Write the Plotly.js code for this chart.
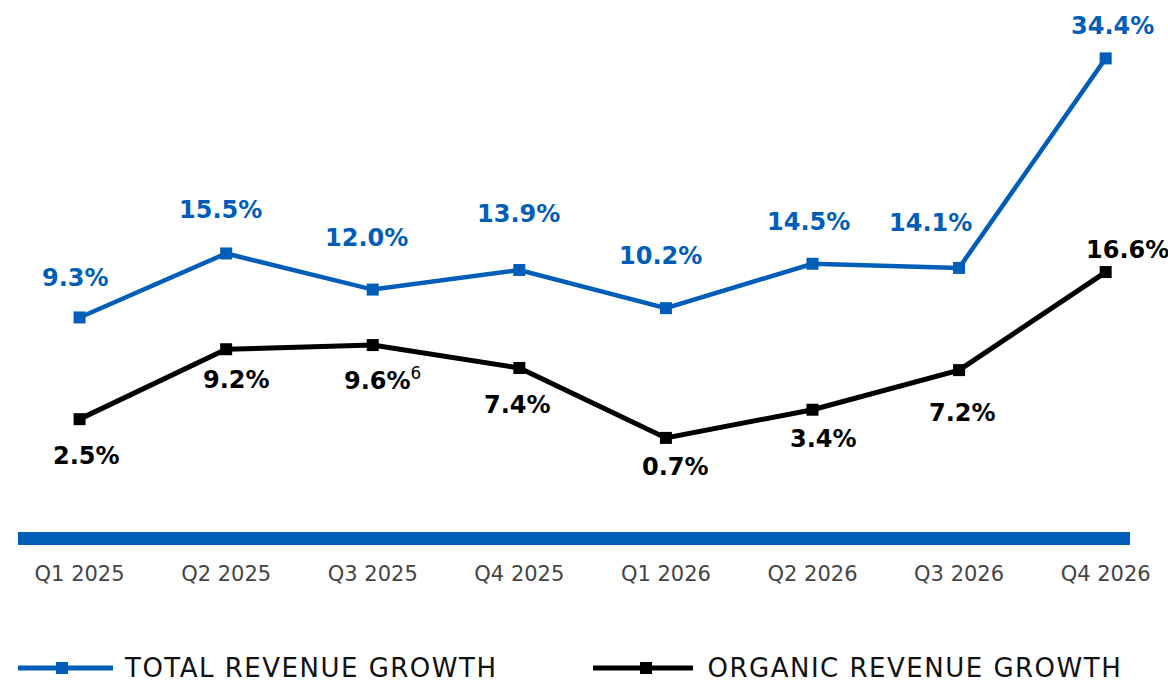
<!DOCTYPE html>
<html>
<head>
<meta charset="utf-8">
<script src="https://cdn.plot.ly/plotly-3.0.1.min.js"></script>
<style>
  html, body { margin: 0; padding: 0; background: #ffffff; }
  #chart { width: 1168px; height: 685px; }
</style>
</head>
<body>
<div id="chart"></div>
<script>
// ---- Data ----
const quarters = ["Q1 2025", "Q2 2025", "Q3 2025", "Q4 2025", "Q1 2026", "Q2 2026", "Q3 2026", "Q4 2026"];
const totalRevenueGrowth = [9.3, 15.5, 12.0, 13.9, 10.2, 14.5, 14.1, 34.4];
const organicRevenueGrowth = [2.5, 9.2, 9.6, 7.4, 0.7, 3.4, 7.2, 16.6];
const organicFootnotes = ["", "", "6", "", "", "", "", ""];
const seriesNames = ["TOTAL REVENUE GROWTH", "ORGANIC REVENUE GROWTH"];

// ---- Label placement (pixel offsets, styling only) ----
const totalLabelDx = [-4, -6, -6, -1, -5, -4, -29, 7];
const totalLabelDy = [39, 43, 52, 56, 52, 42, 45, 32];
const organicLabelDx = [7, 10, 10, -2, 10, 11, 3, 22];
const organicLabelDy = [-37, -31, -34, -37, -29, -29, -43, 22];

// ---- Style ----
const BLUE = "#005EB8";
const BLACK = "#000000";
const FONT = "DejaVu Sans";

// plot area in pixels (for legend placement)
const L = 18, R = 1130, T = 0, B = 532;
const px = x => (x - L) / (R - L);
const py = y => (B - y) / (B - T);

const traces = [
  {
    x: quarters, y: totalRevenueGrowth, name: seriesNames[0],
    type: "scatter", mode: "lines+markers", yaxis: "y",
    line: { color: BLUE, width: 4.5 },
    marker: { symbol: "square", size: 12, color: BLUE },
    cliponaxis: false, showlegend: false, hoverinfo: "skip"
  },
  {
    x: quarters, y: organicRevenueGrowth, name: seriesNames[1],
    type: "scatter", mode: "lines+markers", yaxis: "y2",
    line: { color: BLACK, width: 5 },
    marker: { symbol: "square", size: 12, color: BLACK },
    cliponaxis: false, showlegend: false, hoverinfo: "skip"
  }
];

const annotations = [];
quarters.forEach((q, i) => {
  annotations.push({
    x: q, y: totalRevenueGrowth[i], xref: "x", yref: "y",
    text: totalRevenueGrowth[i].toFixed(1) + "%",
    showarrow: false, xanchor: "center", yanchor: "middle",
    xshift: totalLabelDx[i], yshift: totalLabelDy[i],
    font: { family: FONT, size: 24, color: BLUE, weight: 700 }
  });
  const fn = organicFootnotes[i];
  annotations.push({
    x: q, y: organicRevenueGrowth[i], xref: "x", yref: "y2",
    text: organicRevenueGrowth[i].toFixed(1) + "%" +
      (fn ? '<sup><span style="font-weight:normal">' + fn + '</span></sup>' : ""),
    showarrow: false, xanchor: "center", yanchor: "middle",
    xshift: organicLabelDx[i], yshift: organicLabelDy[i],
    font: { family: FONT, size: 24, color: BLACK, weight: 700 }
  });
});

// legend (custom, drawn as shapes + text)
const legendY = 668;
const legendItems = [
  { name: seriesNames[0], color: BLUE, x0: 18, x1: 113, mx: 62, tx: 123 },
  { name: seriesNames[1], color: BLACK, x0: 593, x1: 693, mx: 646, tx: 708 }
];
const shapes = [];
legendItems.forEach(it => {
  shapes.push({
    type: "line", xref: "paper", yref: "paper",
    x0: px(it.x0), x1: px(it.x1), y0: py(legendY), y1: py(legendY),
    line: { color: it.color, width: 5 }
  });
  shapes.push({
    type: "rect", xref: "paper", yref: "paper",
    x0: px(it.mx - 6), x1: px(it.mx + 6), y0: py(legendY - 6), y1: py(legendY + 6),
    fillcolor: it.color, line: { width: 0 }
  });
  annotations.push({
    x: px(it.tx), y: py(legendY), xref: "paper", yref: "paper",
    text: it.name, showarrow: false, xanchor: "left", yanchor: "middle",
    xshift: 14,
    font: { family: FONT, size: 26, color: "#111111" }
  });
});

const layout = {
  width: 1168, height: 685,
  margin: { l: L, r: 1168 - R, t: T, b: 685 - B },
  paper_bgcolor: "#ffffff", plot_bgcolor: "#ffffff",
  showlegend: false,
  xaxis: {
    type: "category", range: [-0.42, 7.166],
    showgrid: false, zeroline: false,
    showline: true, linecolor: BLUE, linewidth: 13,
    ticks: "", ticklabelstandoff: 11,
    tickfont: { family: FONT, size: 21, color: "#444444" },
    fixedrange: true
  },
  yaxis: {
    range: [-11.49, 40.06], visible: false, showgrid: false, zeroline: false, fixedrange: true
  },
  yaxis2: {
    range: [-8.32, 42.68], overlaying: "y", visible: false, showgrid: false, zeroline: false, fixedrange: true
  },
  annotations: annotations,
  shapes: shapes
};

Plotly.newPlot("chart", traces, layout, { displayModeBar: false, staticPlot: true }).then(gd => {
  // widen legend lettering slightly (reference font is letter-spaced)
  gd.querySelectorAll(".annotation-text").forEach(t => {
    if (seriesNames.includes(t.textContent)) t.style.letterSpacing = "1.5px";
  });
});
</script>
</body>
</html>
